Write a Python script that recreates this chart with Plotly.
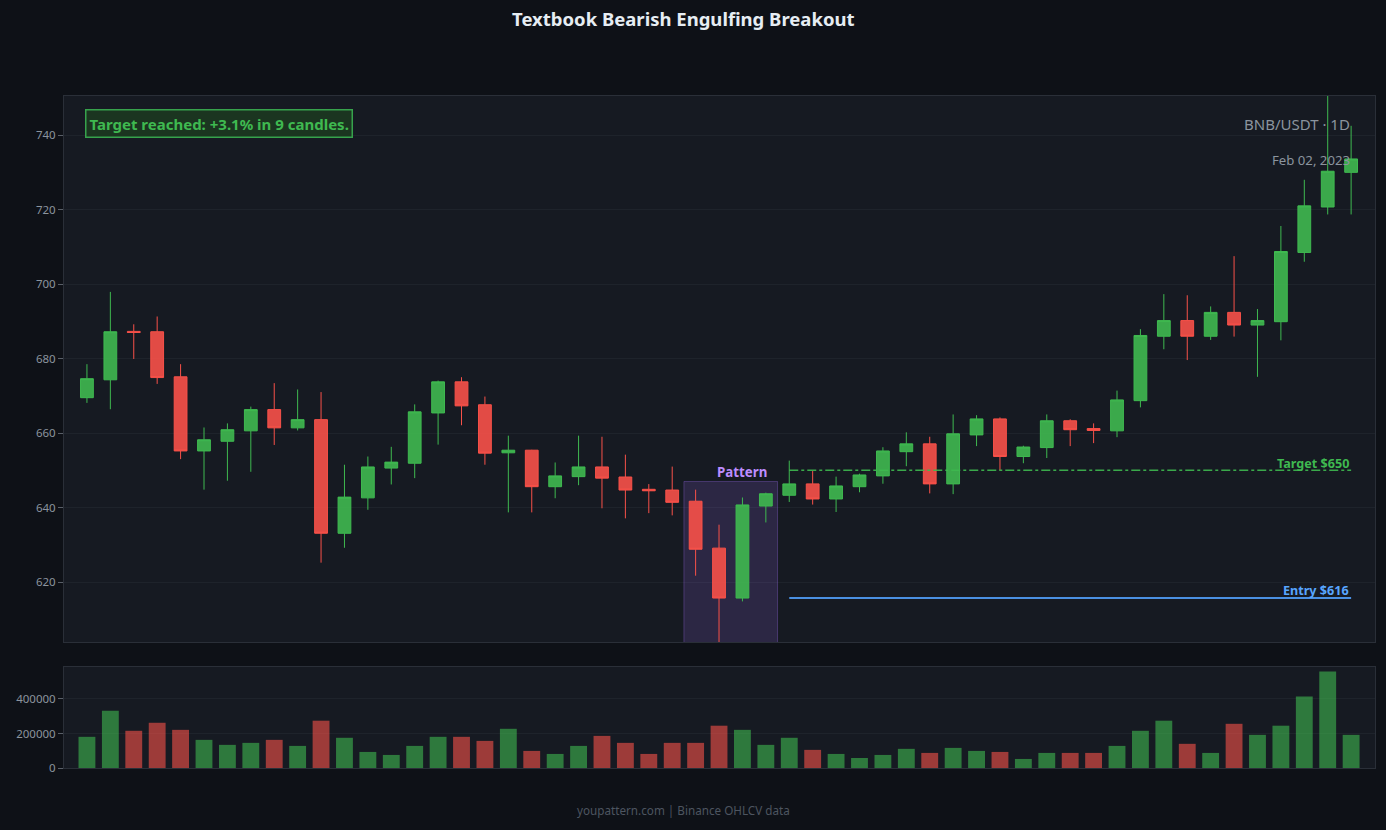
import plotly.graph_objects as go

# ---- data ----
idx = list(range(55))

opens = [669.5, 674.3, 687.3, 687.2, 675.1, 655.2, 657.8, 660.6, 666.3, 661.4,
         663.6, 633.1, 642.6, 650.6, 651.9, 665.4, 673.75, 667.6, 654.7, 655.4,
         645.6, 648.3, 650.9, 648.2, 644.9, 644.7, 641.7, 629.1, 615.7, 640.4,
         643.3, 646.35, 642.3, 645.6, 648.5, 655.0, 657.1, 646.35, 659.5, 663.8,
         653.7, 656.1, 663.3, 661.2, 660.6, 668.7, 686.0, 690.2, 686.0, 692.4,
         689.0, 689.9, 708.5, 720.7, 730.0]

closes = [674.6, 687.2, 687.0, 674.9, 655.2, 658.2, 660.9, 666.3, 661.4, 663.6,
          633.1, 642.8, 650.9, 652.2, 665.7, 673.75, 667.3, 654.6, 655.4, 645.6,
          648.5, 650.9, 647.9, 644.7, 644.5, 641.4, 628.8, 615.7, 640.7, 643.7,
          646.35, 642.3, 645.8, 648.75, 655.2, 657.1, 646.35, 659.8, 663.8, 653.7,
          656.25, 663.3, 660.9, 660.7, 668.9, 686.2, 690.2, 686.0, 692.4, 689.0,
          690.2, 708.75, 721.0, 730.3, 733.6]

highs = [678.5, 697.9, 689.2, 691.3, 678.5, 661.5, 662.6, 667.1, 673.4, 671.7,
         671.0, 651.5, 653.7, 656.3, 667.7, 674.1, 675.0, 669.8, 659.3, 655.5,
         652.1, 659.3, 659.0, 654.2, 646.3, 651.0, 644.8, 635.4, 642.7, 644.0,
         652.6, 649.8, 648.3, 649.1, 656.2, 660.2, 659.0, 665.0, 664.8, 664.2,
         656.6, 665.0, 663.7, 662.6, 671.4, 687.9, 697.3, 697.0, 694.0, 707.5,
         693.3, 715.6, 728.0, 752.0, 742.5]

lows = [668.1, 666.4, 679.9, 673.2, 653.0, 644.8, 647.2, 649.6, 656.8, 660.7,
        625.2, 629.2, 639.4, 646.2, 647.9, 656.9, 662.1, 651.5, 638.7, 638.7,
        642.5, 646.0, 639.8, 637.1, 638.5, 637.9, 621.7, 603.0, 614.8, 636.0,
        641.5, 640.8, 638.8, 644.1, 646.4, 651.1, 643.8, 643.6, 656.5, 650.0,
        651.9, 653.3, 656.5, 657.3, 658.9, 666.9, 682.5, 679.6, 685.0, 685.9,
        675.1, 684.9, 706.0, 718.7, 718.7]

volumes = [180600, 332000, 215500, 262000, 221000, 163000, 134000, 145600, 163000, 128000,
           274000, 175000, 93000, 75700, 128000, 180600, 180600, 157000, 227000, 99000,
           81500, 128000, 186000, 145600, 81500, 145600, 145600, 245000, 221000, 134000,
           175000, 105000, 81500, 58000, 75700, 111000, 87400, 116500, 99000, 93000,
           52400, 87400, 87400, 87400, 128000, 215500, 274000, 140000, 87400, 256000,
           192000, 245000, 414000, 559000, 192000]

pattern_start, pattern_end = 26, 29
pattern_label_at = 28
pattern_top = 647.0
line_start, line_end = 30, 54
target_price = 650.0
entry_price = 615.7

title_text = "Textbook Bearish Engulfing Breakout"
status_text = "Target reached: +3.1% in 9 candles."
symbol_text = "BNB/USDT · 1D"
date_text = "Feb 02, 2023"
footer_text = "youpattern.com | Binance OHLCV data"

# ---- styling ----
GREEN = "#3fb950"
RED = "#f85149"
BLUE = "#58a6ff"
PURPLE = "#bc8cff"
PAPER = "#0e1117"
PLOT = "#161a22"
GRID = "#1e232b"
AXIS_LINE = "#2a2f38"
TICK = "#8b949e"
FONT = "Noto Sans"

vol_colors = ["rgba(63,185,80,0.6)" if c >= o else "rgba(248,81,73,0.6)"
              for o, c in zip(opens, closes)]

fig = go.Figure()

fig.add_trace(go.Candlestick(
    x=idx, open=opens, high=highs, low=lows, close=closes,
    increasing=dict(line=dict(color=GREEN, width=1), fillcolor="rgba(63,185,80,0.9)"),
    decreasing=dict(line=dict(color=RED, width=1), fillcolor="rgba(248,81,73,0.9)"),
    xaxis="x", yaxis="y", showlegend=False, name="",
))

fig.add_trace(go.Bar(
    x=idx, y=volumes, marker=dict(color=vol_colors, line=dict(width=0)),
    xaxis="x2", yaxis="y2", showlegend=False, name="",
))

# pattern box
fig.add_shape(type="rect", xref="x", yref="y",
              x0=pattern_start - 0.5, x1=pattern_end + 0.5, y0=600, y1=pattern_top,
              fillcolor="rgba(163,113,247,0.16)",
              line=dict(color="rgba(163,113,247,0.30)", width=1), layer="between")

# target and entry lines
fig.add_shape(type="line", xref="x", yref="y", x0=line_start, x1=line_end,
              y0=target_price, y1=target_price,
              line=dict(color=GREEN, width=1.5, dash="dashdot"), opacity=0.9)
fig.add_shape(type="line", xref="x", yref="y", x0=line_start, x1=line_end,
              y0=entry_price, y1=entry_price,
              line=dict(color="#4a90e2", width=2))

annotations = [
    dict(text="<b>Pattern</b>", x=pattern_label_at, y=pattern_top,
         xref="x", yref="y", xanchor="center", yanchor="bottom", showarrow=False,
         font=dict(family=FONT, size=13.3, color=PURPLE), yshift=-2),
    dict(text="<b>Target $650</b>", x=line_end, y=target_price, xref="x", yref="y",
         xanchor="right", yanchor="bottom", showarrow=False,
         font=dict(family=FONT, size=12.6, color=GREEN), yshift=-4),
    dict(text="<b>Entry $616</b>", x=line_end, y=entry_price, xref="x", yref="y",
         xanchor="right", yanchor="bottom", showarrow=False,
         font=dict(family=FONT, size=12.6, color=BLUE), yshift=-3),
    dict(text="<b>" + status_text + "</b>", x=0.016, y=0.949, xref="x domain", yref="y domain",
         xanchor="left", yanchor="middle", showarrow=False,
         font=dict(family=FONT, size=15, color=GREEN),
         bgcolor="#1b3520", bordercolor="#37a24c", borderwidth=1.5, borderpad=3),
    dict(text=symbol_text, x=0.9825, y=0.949, xref="x domain", yref="y domain",
         xanchor="right", yanchor="middle", showarrow=False,
         font=dict(family=FONT, size=15, color=TICK)),
    dict(text=date_text, x=0.9825, y=0.882, xref="x domain", yref="y domain",
         xanchor="right", yanchor="middle", showarrow=False,
         font=dict(family=FONT, size=13.2, color=TICK)),
    dict(text=footer_text, x=(683.5 - 64) / 1311, y=(768 - 810) / 672,
         xref="paper", yref="paper",
         xanchor="center", yanchor="middle", showarrow=False,
         font=dict(family=FONT, size=11.7, color="#4d5560")),
]

fig.update_layout(
    width=1386, height=830,
    paper_bgcolor=PAPER, plot_bgcolor=PLOT,
    margin=dict(l=64, r=11, t=96, b=62),
    font=dict(family=FONT, color=TICK, size=11.5),
    title=dict(text="<b>" + title_text + "</b>", x=0.493, xanchor="center",
               y=1 - 20 / 830, yanchor="middle",
               font=dict(family=FONT, size=18.5, color="#e6edf3")),
    showlegend=False,
    boxgap=0.22,
    bargap=0.28,
    annotations=annotations,
    xaxis=dict(domain=[0, 1], range=[-0.98, 55.02], showticklabels=False,
               showgrid=False, zeroline=False, rangeslider=dict(visible=False),
               showline=True, mirror=True, linecolor=AXIS_LINE, anchor="y"),
    xaxis2=dict(domain=[0, 1], range=[-0.98, 55.02], showticklabels=False,
                showgrid=False, zeroline=False, matches="x",
                showline=True, mirror=True, linecolor=AXIS_LINE, anchor="y2"),
    yaxis=dict(domain=[126 / 672, 1], range=[603.9, 750.5], dtick=20, tick0=0,
               gridcolor=GRID, zeroline=False, ticks="outside", ticklen=5,
               tickcolor="#5a6069", tickfont=dict(size=11.5, color=TICK),
               showline=True, mirror=True, linecolor=AXIS_LINE),
    yaxis2=dict(domain=[0, 101 / 672], range=[0, 585000], dtick=200000, tick0=0,
                tickformat="d", gridcolor=GRID, zeroline=False, ticks="outside",
                ticklen=5, tickcolor="#5a6069", tickfont=dict(size=11.5, color=TICK),
                showline=True, mirror=True, linecolor=AXIS_LINE),
)

fig.write_html("out.html")
